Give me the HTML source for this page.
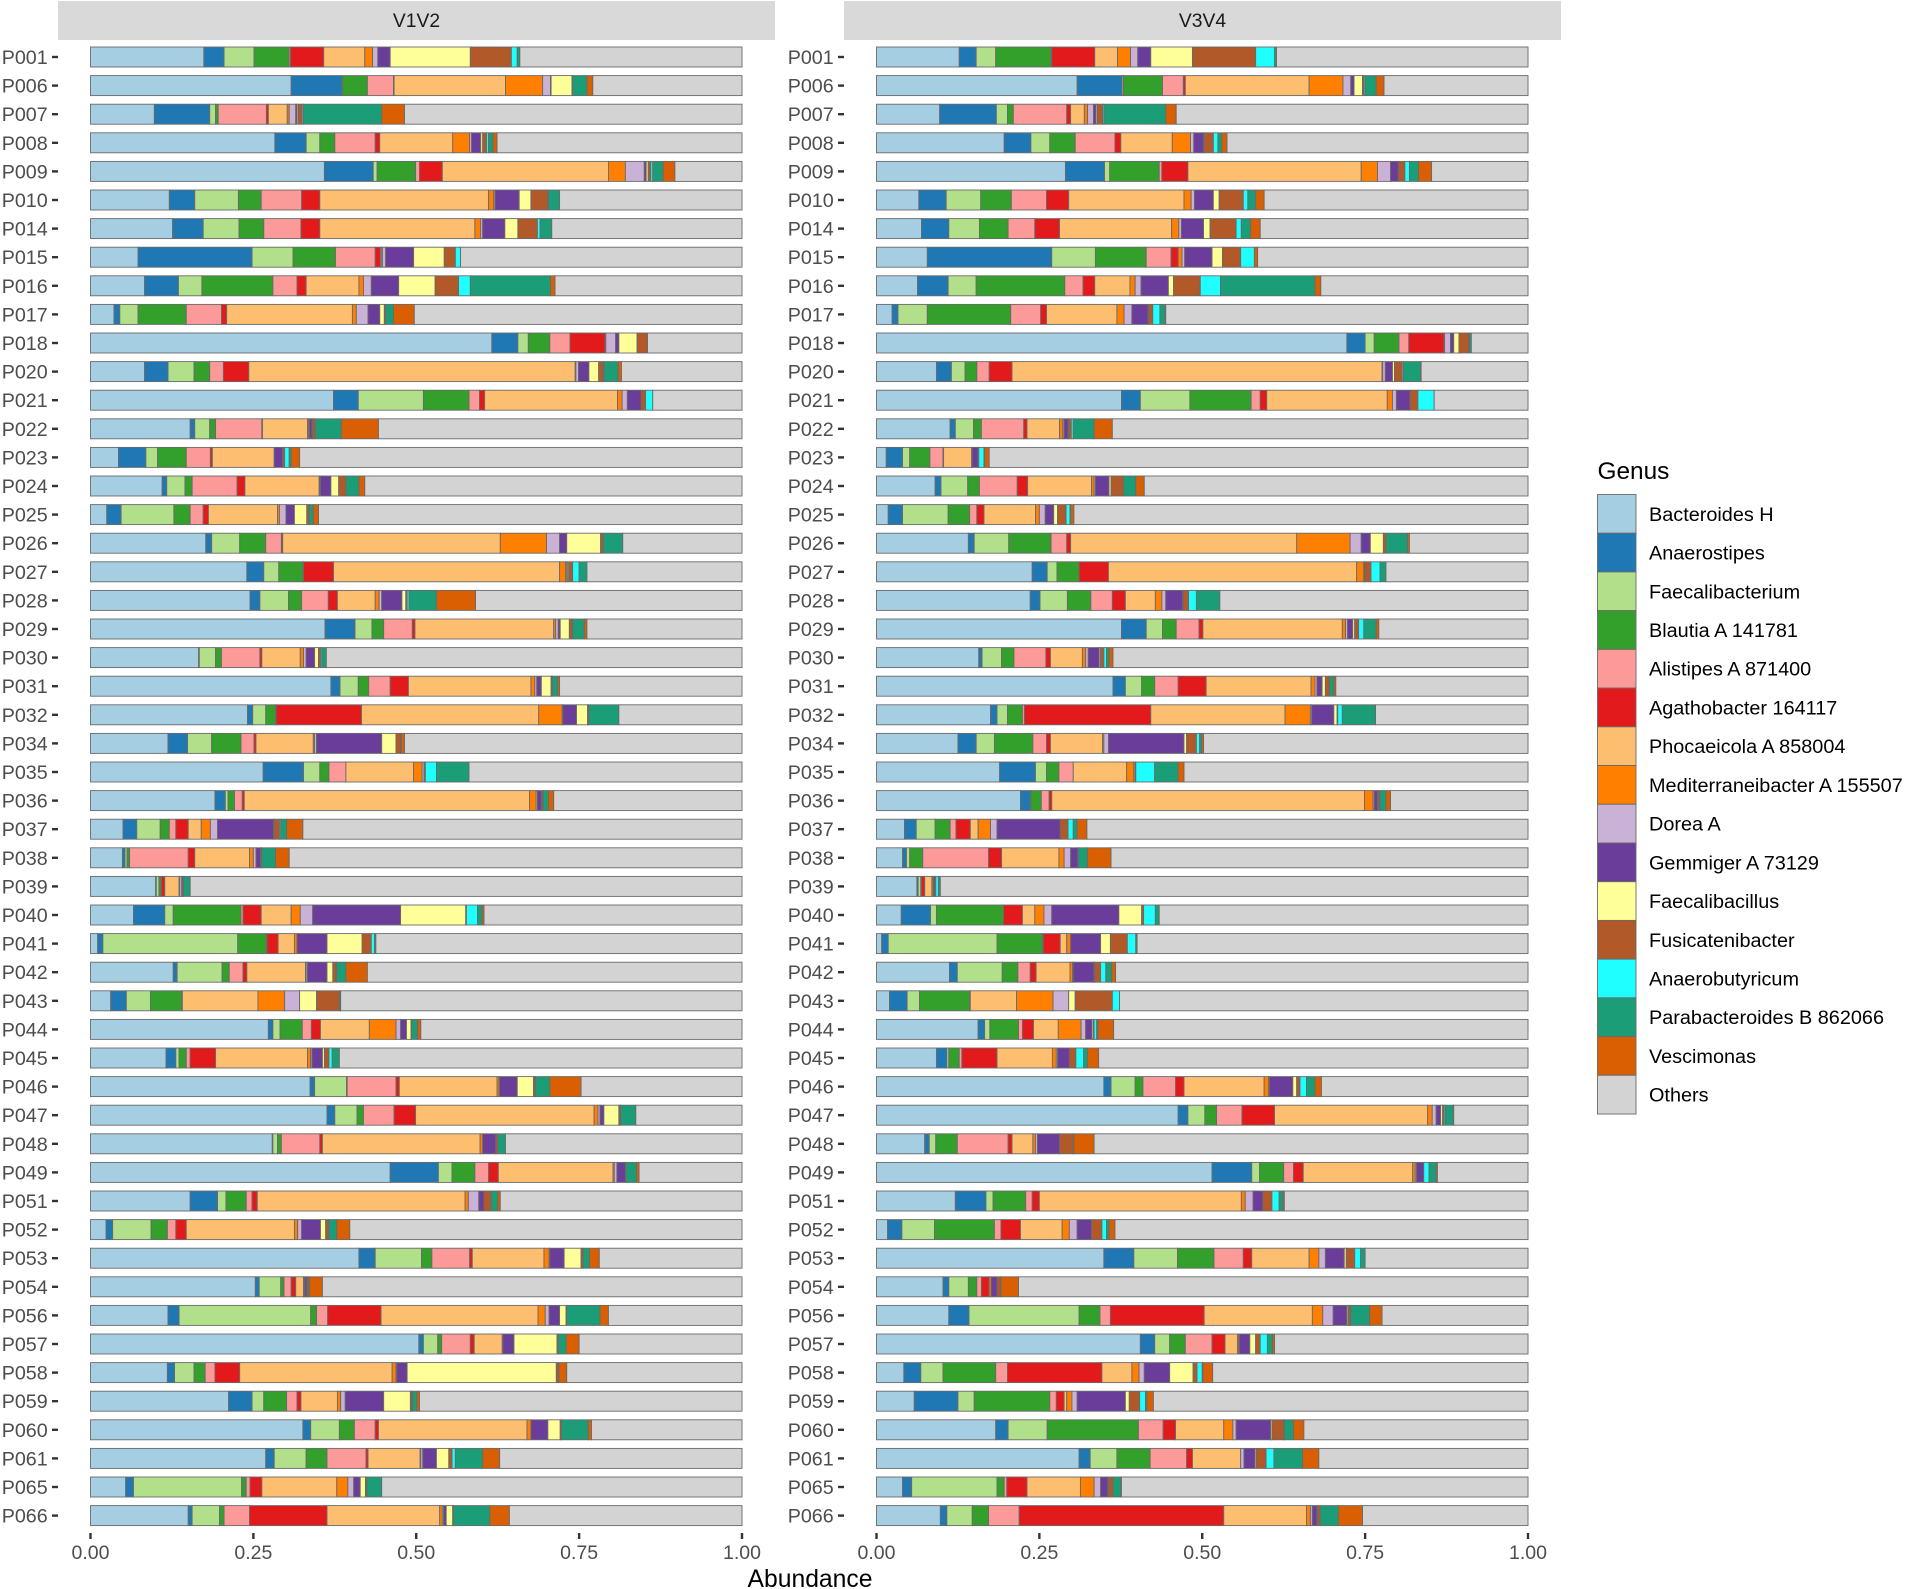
<!DOCTYPE html>
<html lang="en">
<head>
<meta charset="utf-8">
<title>Genus abundance by patient, V1V2 and V3V4</title>
<style>
html,body{margin:0;padding:0;background:#fff;}
svg{display:block;font-family:"Liberation Sans",Arial,sans-serif;}
</style>
</head>
<body>
<svg id="chart" xmlns="http://www.w3.org/2000/svg" width="1905" height="1589" viewBox="0 0 1905 1589">
<rect x="58" y="1" width="717" height="39" fill="#d9d9d9"/>
<text x="416.5" y="27" font-size="19.3" fill="#1a1a1a" text-anchor="middle">V1V2</text>
<rect x="844" y="1" width="717" height="39" fill="#d9d9d9"/>
<text x="1202.5" y="27" font-size="19.3" fill="#1a1a1a" text-anchor="middle">V3V4</text>
<text x="810" y="1587" font-size="24.7" fill="#000" text-anchor="middle">Abundance</text>
<text x="1597.5" y="479" font-size="24.4" fill="#000">Genus</text>
<g id="panels"></g>
<g id="legend"></g>
</svg>
<script>
const patients = ["P001","P006","P007","P008","P009","P010","P014","P015","P016","P017","P018","P020","P021","P022","P023","P024","P025","P026","P027","P028","P029","P030","P031","P032","P034","P035","P036","P037","P038","P039","P040","P041","P042","P043","P044","P045","P046","P047","P048","P049","P051","P052","P053","P054","P056","P057","P058","P059","P060","P061","P065","P066"];
const genera = ["Bacteroides H","Anaerostipes","Faecalibacterium","Blautia A 141781","Alistipes A 871400","Agathobacter 164117","Phocaeicola A 858004","Mediterraneibacter A 155507","Dorea A","Gemmiger A 73129","Faecalibacillus","Fusicatenibacter","Anaerobutyricum","Parabacteroides B 862066","Vescimonas","Others"];
const genusColors = ["#a6cee3","#1f78b4","#b2df8a","#33a02c","#fb9a99","#e31a1c","#fdbf6f","#ff7f00","#cab2d6","#6a3d9a","#ffff99","#b15928","#1fffff","#1b9e77","#d95f02","#d3d3d3"];
const xTicks = [0,0.25,0.5,0.75,1];
const xTickLabels = ["0.00","0.25","0.50","0.75","1.00"];
/* Running stacked abundance at the end of each genus, one row per patient; "Others" fills the remainder to 1. */
const v1v2Cumulative = [
[.174,.205,.251,.305,.307,.358,.421,.433,.441,.460,.583,.646,.655,.659,.659],
[.308,.386,.387,.425,.465,.466,.637,.694,.706,.707,.739,.740,.740,.762,.771],
[.098,.183,.192,.196,.270,.273,.302,.305,.315,.317,.319,.325,.327,.447,.482],
[.283,.331,.352,.375,.437,.444,.556,.582,.585,.599,.602,.608,.611,.618,.624],
[.359,.434,.440,.499,.505,.540,.795,.821,.850,.853,.856,.860,.863,.879,.897],
[.121,.160,.227,.262,.324,.352,.611,.619,.621,.658,.676,.702,.703,.720,.720],
[.126,.173,.228,.266,.323,.352,.590,.599,.602,.636,.656,.686,.690,.708,.708],
[.073,.248,.311,.376,.437,.445,.447,.448,.453,.496,.543,.560,.568,.568,.568],
[.083,.135,.171,.280,.317,.331,.412,.419,.431,.473,.529,.565,.583,.706,.713],
[.036,.045,.073,.147,.201,.209,.402,.408,.426,.444,.451,.453,.453,.465,.497],
[.616,.656,.672,.705,.736,.790,.790,.791,.806,.811,.839,.855,.855,.855,.855],
[.083,.119,.159,.183,.204,.243,.744,.745,.749,.765,.780,.787,.788,.810,.815],
[.373,.411,.511,.581,.597,.605,.809,.816,.824,.845,.845,.852,.863,.863,.863],
[.153,.160,.183,.192,.263,.264,.333,.335,.336,.340,.341,.345,.345,.385,.442],
[.043,.085,.103,.147,.184,.187,.282,.282,.282,.295,.295,.298,.305,.308,.321],
[.110,.117,.145,.156,.225,.237,.351,.352,.353,.369,.381,.392,.392,.412,.421],
[.025,.047,.128,.153,.173,.181,.287,.290,.300,.313,.332,.335,.336,.342,.350],
[.177,.186,.229,.269,.293,.295,.629,.700,.720,.731,.783,.787,.787,.817,.817],
[.240,.266,.289,.326,.327,.373,.720,.729,.731,.732,.734,.740,.750,.762,.762],
[.245,.260,.304,.324,.365,.379,.437,.443,.447,.478,.484,.486,.489,.531,.591],
[.360,.406,.432,.450,.494,.498,.711,.714,.718,.721,.735,.739,.740,.758,.762],
[.166,.167,.192,.201,.260,.263,.322,.327,.331,.344,.350,.353,.355,.362,.362],
[.369,.383,.411,.427,.460,.488,.676,.682,.685,.692,.707,.708,.709,.717,.720],
[.241,.249,.269,.284,.285,.416,.688,.724,.725,.746,.763,.764,.765,.811,.811],
[.119,.149,.186,.231,.251,.254,.342,.344,.347,.447,.469,.476,.476,.477,.482],
[.265,.327,.352,.366,.392,.392,.496,.509,.512,.513,.514,.514,.531,.581,.581],
[.191,.207,.211,.221,.233,.236,.674,.684,.686,.692,.693,.695,.695,.703,.711],
[.050,.071,.107,.121,.131,.150,.170,.184,.195,.281,.282,.290,.292,.301,.326],
[.049,.053,.056,.060,.150,.160,.244,.250,.254,.261,.262,.263,.263,.284,.305],
[.100,.101,.105,.108,.109,.114,.136,.137,.140,.141,.142,.143,.143,.153,.153],
[.066,.114,.127,.231,.234,.262,.308,.322,.341,.476,.576,.577,.594,.601,.604],
[.011,.019,.226,.270,.271,.288,.313,.317,.317,.363,.417,.431,.436,.438,.438],
[.127,.133,.202,.213,.234,.240,.330,.331,.333,.363,.372,.377,.378,.392,.425],
[.031,.055,.092,.140,.140,.141,.257,.298,.321,.321,.347,.382,.382,.384,.384],
[.273,.280,.291,.325,.339,.353,.428,.469,.476,.485,.492,.492,.493,.502,.507],
[.116,.131,.136,.147,.153,.192,.333,.338,.340,.356,.359,.366,.371,.382,.382],
[.337,.344,.393,.394,.469,.474,.624,.627,.628,.655,.680,.682,.683,.705,.753],
[.363,.375,.409,.419,.466,.499,.773,.779,.782,.788,.811,.813,.814,.837,.837],
[.279,.280,.287,.293,.352,.356,.598,.602,.602,.622,.622,.625,.625,.637,.637],
[.460,.534,.555,.590,.611,.626,.802,.804,.808,.821,.821,.822,.822,.838,.842],
[.153,.195,.208,.239,.248,.256,.575,.580,.596,.604,.604,.615,.615,.625,.629],
[.024,.034,.093,.118,.131,.147,.313,.318,.324,.353,.361,.365,.366,.378,.398],
[.412,.437,.508,.524,.582,.586,.696,.704,.705,.727,.753,.756,.756,.766,.781],
[.253,.259,.292,.297,.308,.315,.327,.328,.329,.332,.333,.335,.335,.336,.356],
[.119,.136,.338,.347,.364,.446,.687,.698,.704,.720,.730,.731,.731,.782,.795],
[.504,.511,.533,.539,.583,.589,.632,.633,.633,.650,.716,.718,.718,.730,.750],
[.118,.129,.159,.176,.191,.229,.463,.469,.470,.486,.715,.718,.718,.719,.731],
[.212,.248,.266,.301,.317,.323,.379,.384,.391,.450,.491,.493,.494,.501,.505],
[.326,.338,.382,.405,.437,.442,.670,.676,.676,.702,.721,.723,.723,.764,.769],
[.269,.282,.331,.363,.423,.426,.506,.507,.510,.531,.550,.555,.560,.602,.628],
[.054,.066,.232,.239,.245,.263,.378,.395,.404,.414,.422,.424,.424,.447,.447],
[.150,.156,.198,.205,.244,.363,.536,.540,.542,.546,.556,.557,.557,.613,.643]
];
const v3v4Cumulative = [
[.127,.153,.183,.268,.269,.335,.370,.390,.401,.421,.485,.582,.611,.614,.614],
[.308,.377,.379,.439,.471,.474,.664,.716,.728,.733,.746,.748,.750,.767,.779],
[.097,.184,.201,.210,.292,.298,.319,.324,.333,.337,.339,.347,.349,.444,.460],
[.196,.237,.266,.305,.366,.375,.454,.482,.487,.502,.503,.517,.524,.530,.538],
[.290,.350,.358,.434,.438,.478,.744,.769,.789,.801,.801,.811,.818,.832,.852],
[.065,.107,.160,.207,.261,.295,.472,.483,.488,.517,.526,.563,.570,.582,.595],
[.069,.111,.158,.202,.243,.281,.453,.464,.468,.502,.512,.552,.560,.574,.589],
[.078,.269,.336,.414,.452,.463,.463,.469,.473,.515,.531,.559,.580,.580,.585],
[.063,.110,.153,.289,.317,.335,.389,.397,.406,.448,.456,.497,.528,.673,.682],
[.024,.033,.078,.206,.252,.261,.369,.380,.392,.417,.418,.424,.435,.443,.444],
[.722,.750,.764,.802,.817,.871,.871,.872,.881,.886,.894,.909,.910,.913,.913],
[.092,.115,.136,.154,.173,.208,.776,.777,.781,.792,.795,.807,.809,.835,.836],
[.376,.405,.481,.575,.589,.599,.784,.792,.798,.819,.819,.831,.856,.856,.856],
[.113,.121,.149,.161,.226,.231,.281,.286,.288,.294,.295,.299,.302,.334,.362],
[.015,.040,.051,.082,.102,.103,.146,.147,.147,.156,.156,.157,.165,.166,.173],
[.090,.099,.140,.158,.216,.232,.330,.334,.336,.357,.360,.379,.379,.398,.411],
[.018,.040,.110,.143,.154,.165,.244,.250,.259,.272,.278,.291,.297,.298,.303],
[.141,.150,.203,.268,.292,.298,.645,.727,.744,.758,.778,.782,.782,.815,.818],
[.239,.262,.277,.311,.311,.356,.737,.748,.749,.750,.750,.759,.773,.782,.782],
[.236,.251,.293,.329,.362,.382,.428,.438,.444,.470,.471,.479,.491,.527,.527],
[.376,.414,.439,.460,.495,.501,.715,.720,.723,.731,.734,.740,.748,.767,.771],
[.157,.162,.192,.211,.260,.267,.316,.321,.325,.342,.344,.349,.353,.357,.363],
[.363,.382,.407,.427,.463,.506,.667,.673,.676,.684,.689,.695,.695,.702,.705],
[.175,.185,.201,.224,.227,.421,.627,.666,.668,.702,.707,.708,.715,.766,.766],
[.125,.153,.181,.240,.261,.267,.347,.349,.356,.472,.476,.491,.496,.499,.502],
[.189,.244,.261,.280,.302,.302,.384,.395,.397,.397,.397,.398,.427,.463,.472],
[.221,.236,.237,.253,.265,.269,.749,.762,.764,.769,.770,.772,.773,.782,.789],
[.043,.061,.090,.113,.122,.144,.156,.175,.185,.282,.282,.294,.302,.308,.323],
[.040,.046,.051,.071,.172,.192,.280,.288,.298,.309,.309,.310,.310,.324,.360],
[.062,.064,.068,.069,.069,.074,.085,.087,.088,.090,.090,.091,.095,.098,.098],
[.038,.083,.092,.195,.195,.224,.243,.257,.269,.372,.407,.410,.428,.434,.434],
[.008,.018,.185,.255,.256,.282,.292,.298,.298,.344,.359,.385,.398,.400,.400],
[.112,.124,.193,.217,.236,.245,.297,.301,.302,.334,.335,.344,.352,.361,.367],
[.020,.047,.066,.143,.143,.144,.215,.271,.295,.295,.305,.362,.373,.373,.373],
[.156,.166,.174,.218,.224,.241,.279,.314,.321,.331,.333,.334,.338,.340,.364],
[.092,.108,.111,.127,.131,.185,.270,.276,.278,.296,.296,.306,.318,.324,.341],
[.349,.360,.397,.409,.459,.472,.595,.602,.603,.639,.645,.650,.660,.673,.683],
[.463,.478,.504,.522,.561,.611,.846,.853,.859,.866,.869,.871,.873,.885,.886],
[.074,.081,.091,.124,.202,.208,.240,.244,.247,.281,.281,.302,.302,.303,.334],
[.515,.576,.588,.625,.640,.655,.823,.827,.829,.840,.840,.840,.848,.859,.861],
[.121,.168,.179,.229,.239,.250,.560,.566,.578,.593,.593,.607,.618,.624,.626],
[.017,.039,.089,.181,.191,.221,.285,.296,.308,.330,.330,.346,.353,.357,.366],
[.349,.395,.462,.518,.563,.576,.664,.679,.689,.718,.721,.734,.743,.750,.750],
[.102,.111,.141,.154,.161,.173,.173,.176,.176,.185,.185,.190,.190,.191,.218],
[.111,.142,.311,.343,.359,.503,.669,.685,.701,.722,.724,.727,.728,.757,.776],
[.405,.427,.450,.474,.515,.535,.554,.556,.557,.573,.582,.589,.600,.608,.611],
[.042,.068,.102,.183,.201,.346,.392,.403,.411,.450,.486,.492,.500,.501,.516],
[.058,.125,.150,.266,.276,.288,.292,.300,.308,.382,.388,.404,.413,.415,.425],
[.183,.202,.262,.402,.440,.459,.533,.547,.552,.605,.607,.625,.626,.640,.656],
[.311,.328,.369,.420,.476,.485,.559,.559,.564,.581,.583,.598,.610,.654,.679],
[.040,.054,.185,.196,.200,.231,.313,.334,.344,.355,.356,.363,.363,.375,.376],
[.098,.108,.147,.172,.219,.533,.660,.666,.669,.676,.677,.681,.681,.709,.746]
];
const panelNames = ["v1v2","v3v4"];
const panelSeries = [v1v2Cumulative, v3v4Cumulative];

const NS = "http://www.w3.org/2000/svg";
const panelsGroup = document.getElementById("panels");
const legendGroup = document.getElementById("legend");
const panelOrigin = [90.5, 876.5];
const axisWidth = 651.5;
const rowStart = 57;
const rowStep = 28.6;
const barHeight = 20;

function xScale(panel, value) { return panelOrigin[panel] + value * axisWidth; }
function yScale(index) { return rowStart + index * rowStep; }
function make(tag, attrs, parent) {
  const node = document.createElementNS(NS, tag);
  for (const key in attrs) node.setAttribute(key, attrs[key]);
  parent.appendChild(node);
  return node;
}

panelSeries.forEach(function (rows, p) {
  const g = make("g", {}, panelsGroup);
  
  
  rows.forEach(function (row, r) {
    const cy = yScale(r);
    const ends = row.concat([1]);
    let start = 0;
    ends.forEach(function (end, s) {
      const x0 = xScale(p, start);
      const x1 = xScale(p, end);
      const rect = make("rect", {x: x0, y: cy - barHeight / 2, width: Math.max(0, x1 - x0), height: barHeight, fill: genusColors[s], stroke: "#6a6a6a", "stroke-width": 0.9}, g);
      
      
      start = Math.max(start, end);
    });
    const axisLeft = panelOrigin[p] - 32.5;
    const tick = make("line", {x1: axisLeft - 6, x2: axisLeft, y1: cy, y2: cy, stroke: "#333", "stroke-width": 2.4}, g);
    
    
    const label = make("text", {x: axisLeft - 10.3, y: cy + 7, "font-size": 19.7, fill: "#4d4d4d", "text-anchor": "end"}, g);
    label.textContent = patients[r];
    
    
  });
  xTicks.forEach(function (v, t) {
    const x = xScale(p, v);
    const tick = make("line", {x1: x, x2: x, y1: 1533, y2: 1539, stroke: "#333", "stroke-width": 2.4}, g);
    
    
    const label = make("text", {x: x, y: 1559, "font-size": 19.5, fill: "#4d4d4d", "text-anchor": "middle"}, g);
    label.textContent = xTickLabels[t];
    
    
  });
});

genera.forEach(function (name, i) {
  const top = 494.5 + i * 38.72;
  const entry = make("g", {}, legendGroup);
  
  
  const key = make("rect", {x: 1597.5, y: top, width: 38.5, height: 38.72, fill: genusColors[i], stroke: "#6a6a6a", "stroke-width": 0.9}, entry);
  
  
  const label = make("text", {x: 1649, y: top + 19.36 + 7, "font-size": 19.85, fill: "#000"}, entry);
  label.textContent = name;
  
  
});
</script>
</body>
</html>
